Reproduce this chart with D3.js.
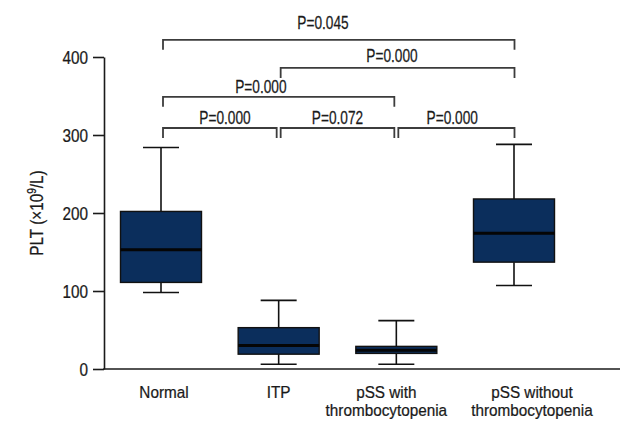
<!DOCTYPE html>
<html>
<head>
<meta charset="utf-8">
<script src="https://cdn.jsdelivr.net/npm/d3@7/dist/d3.min.js"></script>
<style>
  html, body { margin: 0; padding: 0; background: #fff; }
  text { font-family: "Liberation Sans", Arial, sans-serif; fill: #1a1a1a; stroke: #1a1a1a; stroke-width: 0.25px; }
</style>
</head>
<body>
<svg id="chart" width="640" height="440"></svg>
<script>
// ---- Data ----
const categories = ["Normal", "ITP", "pSS with|thrombocytopenia", "pSS without|thrombocytopenia"];
const whiskerLow  = [98, 6, 6, 107];
const q1          = [111, 19, 20, 137];
const median      = [153, 30, 24, 174];
const q3          = [202, 53, 29, 218];
const whiskerHigh = [284, 88, 62, 288];
const yTicks = [0, 100, 200, 300, 400];

// comparisons: [from index, to index, label]
const compFrom   = [0, 1, 0, 0, 1, 2];
const compTo     = [3, 3, 2, 1, 2, 3];
const compLabels = ["P=0.045", "P=0.000", "P=0.000", "P=0.000", "P=0.072", "P=0.000"];

// ---- Layout for annotations ----
const bracketLevel = [422, 386, 349, 309];           // y value of bracket bar
const compLevel    = [0, 1, 2, 3, 3, 3];
const labelLevel   = [436, 394, 354, 314];           // baseline value of labels
const labelFrac    = [0.455, 0.476, 0.423, 0.545, 0.5, 0.464];
const catLabelShift = [3, 0, -10, 18];

const FS = 18;
const svg = d3.select("#chart");
const y = d3.scaleLinear().domain([0, 400]).range([369, 57]);
const x = d3.scalePoint().domain(categories).range([161, 514]);
const axisX0 = 104, axisX1 = 620;
const boxW = 81, capW = 36;

function narrowText(parent, tx, ty, str, sx, anchor, fs) {
  const t = parent.append("g").attr("transform", `translate(${tx},${ty}) scale(${sx},1)`)
    .append("text").attr("text-anchor", anchor || "middle").style("font-size", (fs || FS) + "px");
  if (str !== null) t.text(str);
  return t;
}

// y axis
const tickSize = 11, tickPad = 5, tickScale = 0.85;
const gy = svg.append("g").attr("transform", `translate(${axisX0},0)`)
  .call(d3.axisLeft(y).tickValues(yTicks).tickSize(tickSize).tickSizeOuter(0).tickPadding(tickPad));
gy.select(".domain").attr("stroke", "#1a1a1a").attr("stroke-width", 1.6);
gy.selectAll(".tick line").attr("stroke", "#1a1a1a").attr("stroke-width", 1.6);
gy.selectAll(".tick text")
  .attr("x", -(tickSize + tickPad) / tickScale)
  .attr("transform", `scale(${tickScale},1)`)
  .attr("dy", "0.36em")
  .style("font-size", FS + "px")
  .style("font-family", '"Liberation Sans", Arial, sans-serif').attr("fill", "#1a1a1a");

// x axis line
svg.append("line").attr("x1", axisX0 - 0.8).attr("x2", axisX1)
  .attr("y1", y(0)).attr("y2", y(0)).attr("stroke", "#1a1a1a").attr("stroke-width", 1.6);

// y label
const yl = svg.append("text")
  .attr("transform", `translate(43,${(y(0) + y(400)) / 2}) rotate(-90) scale(0.85,1)`)
  .attr("text-anchor", "middle").style("font-size", FS + "px");
yl.append("tspan").text("PLT (×10");
yl.append("tspan").text("9").attr("dy", -7).style("font-size", "12px");
yl.append("tspan").text("/L)").attr("dy", 7);

// boxes
const boxes = categories.map((c, i) => ({c, lo: whiskerLow[i], q1: q1[i], med: median[i], q3: q3[i], hi: whiskerHigh[i]}));
const g = svg.append("g");
boxes.forEach(d => {
  const cx = x(d.c);
  const bg = g.append("g");
  bg.append("line").attr("x1", cx).attr("x2", cx).attr("y1", y(d.hi)).attr("y2", y(d.q3))
    .attr("stroke", "#111").attr("stroke-width", 1.6);
  bg.append("line").attr("x1", cx).attr("x2", cx).attr("y1", y(d.q1)).attr("y2", y(d.lo))
    .attr("stroke", "#111").attr("stroke-width", 1.6);
  bg.append("line").attr("x1", cx - capW / 2).attr("x2", cx + capW / 2).attr("y1", y(d.hi)).attr("y2", y(d.hi))
    .attr("stroke", "#111").attr("stroke-width", 1.6);
  bg.append("line").attr("x1", cx - capW / 2).attr("x2", cx + capW / 2).attr("y1", y(d.lo)).attr("y2", y(d.lo))
    .attr("stroke", "#111").attr("stroke-width", 1.6);
  bg.append("rect").attr("x", cx - boxW / 2).attr("width", boxW)
    .attr("y", y(d.q3)).attr("height", y(d.q1) - y(d.q3))
    .attr("fill", "#0b2e5c").attr("stroke", "#111").attr("stroke-width", 1.4);
  bg.append("line").attr("x1", cx - boxW / 2).attr("x2", cx + boxW / 2).attr("y1", y(d.med)).attr("y2", y(d.med))
    .attr("stroke", "#050505").attr("stroke-width", 3);
});

// x labels
categories.forEach((c, i) => {
  const lines = c.split("|");
  const t = narrowText(svg, x(c) + catLabelShift[i], 398, null, 0.9, "middle", 17);
  lines.forEach((ln, k) => {
    t.append("tspan").attr("x", 0).attr("y", k * 18).text(ln);
  });
});

// brackets
const drop = 10;
compLabels.forEach((lab, i) => {
  const x1 = x(categories[compFrom[i]]) + 2;
  const x2 = x(categories[compTo[i]]) - (compTo[i] === 3 ? -0.5 : 2);
  const by = y(bracketLevel[compLevel[i]]);
  svg.append("path")
    .attr("d", `M${x1},${by + drop}V${by}H${x2}V${by + drop}`)
    .attr("fill", "none").attr("stroke", "#3c3c3c").attr("stroke-width", 1.8);
  narrowText(svg, x1 + (x2 - x1) * labelFrac[i], y(labelLevel[compLevel[i]]), lab, 0.76, "middle");
});
</script>
</body>
</html>
